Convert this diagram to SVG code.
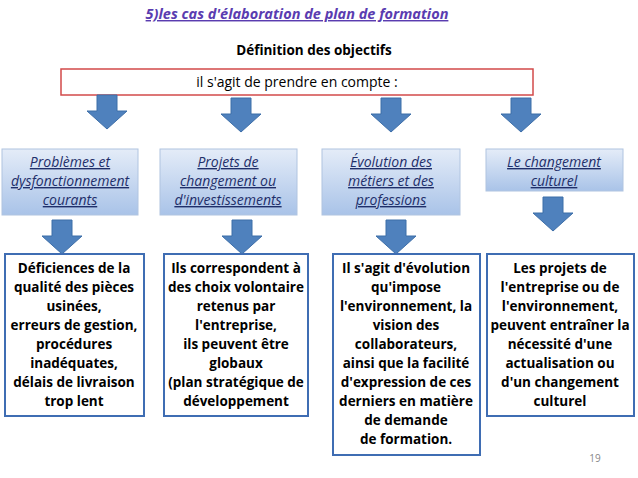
<svg xmlns="http://www.w3.org/2000/svg" width="638" height="478" viewBox="0 0 638 478">
<defs>
<linearGradient id="g" x1="0" y1="0" x2="0" y2="1"><stop offset="0" stop-color="#e4ecf8"/><stop offset="1" stop-color="#a9c3e8"/></linearGradient>
<path id="arr" d="M-10,0 H10 V16 H20 L0,34 L-20,16 H-10 Z"/>
</defs>
<style>
.t{font-family:"Open Sans","Liberation Sans",sans-serif;font-size:14px;text-anchor:middle;fill:#000}
.b{font-weight:bold;font-size:13.5px}
.i{font-style:italic;text-decoration:underline;fill:#1f2f6a}
.top{fill:url(#g);stroke:#b0c4e0;stroke-width:1}
.bot{fill:#fff;stroke:#3f6db3;stroke-width:2}
.a{fill:#4f81bd;stroke:#3d6ea8;stroke-width:1}
</style>
<rect width="638" height="478" fill="#fff"/>
<text x="297" y="19" class="t b" style="font-style:italic;text-decoration:underline;fill:#5a3cb0;font-size:14.5px">5)les cas d'élaboration de plan de formation</text>
<text x="314" y="55" class="t b">Définition des objectifs</text>
<g id="header"><rect x="61" y="69" width="472" height="26" fill="#fff" stroke="#d24a4a" stroke-width="1.5"/>
<text x="297" y="87" class="t">il s'agit de prendre en compte :</text></g>
<g id="connectors">
<use href="#arr" x="107" y="95" class="a"/><use href="#arr" x="241" y="98" class="a"/><use href="#arr" x="391" y="98" class="a"/><use href="#arr" x="521" y="98" class="a"/>
<use href="#arr" x="62" y="220" class="a"/><use href="#arr" x="242" y="220" class="a"/><use href="#arr" x="396" y="220" class="a"/><use href="#arr" x="553" y="197" class="a"/>
</g>
<g id="n1"><rect x="2" y="149" width="136" height="66" class="top"/>
<text class="t i"><tspan x="70" y="167">Problèmes et</tspan><tspan x="70" y="186">dysfonctionnement</tspan><tspan x="70" y="205">courants</tspan></text></g>
<g id="n2"><rect x="160" y="149" width="137" height="66" class="top"/>
<text class="t i"><tspan x="228" y="167">Projets de</tspan><tspan x="228" y="186">changement ou</tspan><tspan x="228" y="205">d'investissements</tspan></text></g>
<g id="n3"><rect x="322" y="149" width="138" height="66" class="top"/>
<text class="t i"><tspan x="391" y="167">Évolution des</tspan><tspan x="391" y="186">métiers et des</tspan><tspan x="391" y="205">professions</tspan></text></g>
<g id="n4"><rect x="486" y="149" width="137" height="42" class="top"/>
<text class="t i"><tspan x="554" y="167">Le changement</tspan><tspan x="554" y="186">culturel</tspan></text></g>
<g id="d1"><rect x="5" y="254" width="139" height="162" class="bot"/>
<text class="t b"><tspan x="74" y="273">Déficiences de la</tspan><tspan x="74" y="292">qualité des pièces</tspan><tspan x="74" y="311">usinées,</tspan><tspan x="74" y="330">erreurs de gestion,</tspan><tspan x="74" y="349">procédures</tspan><tspan x="74" y="368">inadéquates,</tspan><tspan x="74" y="387">délais de livraison</tspan><tspan x="74" y="406">trop lent</tspan></text></g>
<g id="d2"><rect x="164" y="254" width="144" height="162" class="bot"/>
<text class="t b"><tspan x="236" y="273">Ils correspondent à</tspan><tspan x="236" y="292">des choix volontaire</tspan><tspan x="236" y="311">retenus par</tspan><tspan x="236" y="330">l'entreprise,</tspan><tspan x="236" y="349">ils peuvent être</tspan><tspan x="236" y="368">globaux</tspan><tspan x="236" y="387">(plan stratégique de</tspan><tspan x="236" y="406">développement</tspan></text></g>
<g id="d3"><rect x="333" y="254" width="147" height="201" class="bot"/>
<text class="t b"><tspan x="406" y="273">Il s'agit d'évolution</tspan><tspan x="406" y="292">qu'impose</tspan><tspan x="406" y="311">l'environnement, la</tspan><tspan x="406" y="330">vision des</tspan><tspan x="406" y="349">collaborateurs,</tspan><tspan x="406" y="368">ainsi que la facilité</tspan><tspan x="406" y="387">d'expression de ces</tspan><tspan x="406" y="406">derniers en matière</tspan><tspan x="406" y="425">de demande</tspan><tspan x="406" y="444">de formation.</tspan></text></g>
<g id="d4"><rect x="487" y="254" width="147" height="162" class="bot"/>
<text class="t b"><tspan x="560" y="273">Les projets de</tspan><tspan x="560" y="292">l'entreprise ou de</tspan><tspan x="560" y="311">l'environnement,</tspan><tspan x="560" y="330">peuvent entraîner la</tspan><tspan x="560" y="349">nécessité d'une</tspan><tspan x="560" y="368">actualisation ou</tspan><tspan x="560" y="387">d'un changement</tspan><tspan x="560" y="406">culturel</tspan></text></g>
<text x="595" y="462" class="t" style="font-size:10px;fill:#888">19</text>
</svg>
